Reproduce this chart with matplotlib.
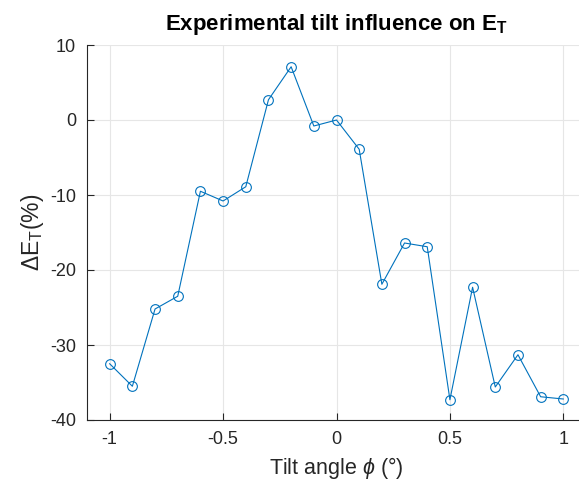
import matplotlib
matplotlib.use("Agg")
import matplotlib.pyplot as plt

plt.rcParams['font.family'] = ['Liberation Sans', 'DejaVu Sans']
plt.rcParams['mathtext.fontset'] = 'custom'
plt.rcParams['mathtext.rm'] = 'Liberation Sans'
plt.rcParams['mathtext.it'] = 'Liberation Sans:italic'
plt.rcParams['mathtext.bf'] = 'Liberation Sans:bold'
plt.rcParams['axes.unicode_minus'] = False

tilt = [-1.0, -0.9, -0.8, -0.7, -0.6, -0.5, -0.4, -0.3, -0.2, -0.1, 0.0,
        0.1, 0.2, 0.3, 0.4, 0.5, 0.6, 0.7, 0.8, 0.9, 1.0]
dET = [-32.5, -35.5, -25.2, -23.5, -9.5, -10.8, -8.9, 2.7, 7.1, -0.8, 0.0,
       -3.9, -21.9, -16.4, -16.9, -37.3, -22.3, -35.6, -31.3, -36.9, -37.2]
xticks = [-1, -0.5, 0, 0.5, 1]
xticklabels = ["-1", "-0.5", "0", "0.5", "1"]
yticks = [-40, -30, -20, -10, 0, 10]

BLUE = "#0072BD"
DARK = "#262626"

fig = plt.figure(figsize=(5.79, 4.92), dpi=100)
ax = fig.add_axes([87/579, 72/492, 499/579, 375/492])

ax.plot(tilt, dET, color=BLUE, lw=0.8, marker='o', ms=7, mfc='none', mec=BLUE, mew=0.8)

ax.set_xlim(-1.1, 1.1); ax.set_ylim(-40, 10)
ax.set_xticks(xticks); ax.set_xticklabels(xticklabels)
ax.set_yticks(yticks)
ax.grid(True, color="#e6e6e6", lw=0.8)
ax.set_axisbelow(True)
for s in ('top', 'right'): ax.spines[s].set_visible(False)
for s in ('left', 'bottom'):
    ax.spines[s].set_color(DARK); ax.spines[s].set_linewidth(0.8)
ax.tick_params(direction='in', length=5, width=0.8, colors=DARK, labelsize=13, pad=8)

ax.set_xlabel(r"Tilt angle $\phi$ (°)", fontsize=15.5, color=DARK, labelpad=5)
ax.set_ylabel(r"$\Delta$E$_\mathrm{T}$(%)", fontsize=16.5, color=DARK, labelpad=3)
ax.set_title(r"Experimental tilt influence on E$_\mathbf{T}$", fontsize=16, fontweight='bold', pad=11)

plt.savefig("out.png", dpi=100, facecolor="white")
